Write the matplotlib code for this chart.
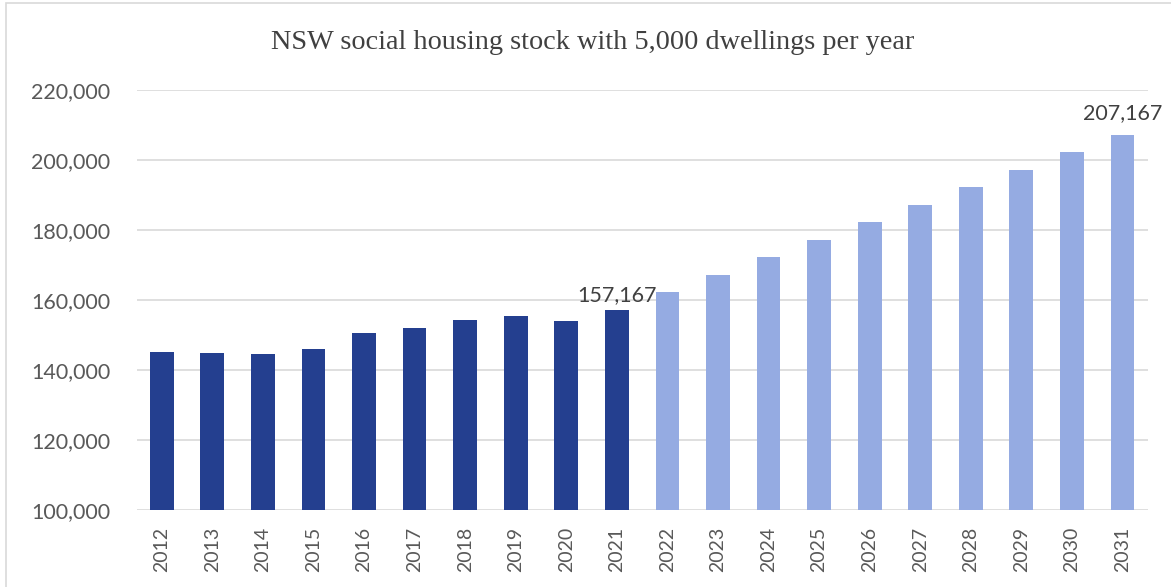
import matplotlib.pyplot as plt
import numpy as np
from matplotlib.patches import Rectangle
from matplotlib.ticker import FuncFormatter

# data
years_actual = ["2012", "2013", "2014", "2015", "2016", "2017", "2018", "2019", "2020", "2021"]
stock_actual = [145200, 144800, 144500, 145900, 150600, 152100, 154300, 155300, 153900, 157167]

years_proj = ["2022", "2023", "2024", "2025", "2026", "2027", "2028", "2029", "2030", "2031"]
stock_proj = [162167, 167167, 172167, 177167, 182167, 187167, 192167, 197167, 202167, 207167]

title = "NSW social housing stock with 5,000 dwellings per year"

dark = "#243f8f"
light = "#95abe2"
txt = "#595959"

fig = plt.figure(figsize=(11.71, 5.87), dpi=100)
ax = fig.add_axes([0.1166, 0.1312, 0.8635, 0.7155])

years = years_actual + years_proj
x = np.arange(len(years))
n_act = len(years_actual)

ax.bar(x[:n_act], stock_actual, width=0.47, color=dark, zorder=3)
ax.bar(x[n_act:], stock_proj, width=0.47, color=light, zorder=3)

# etykiety nad ostatnim słupkiem danych i ostatnim słupkiem prognozy
ax.text(x[n_act - 1], stock_actual[-1] + 1300, f"{stock_actual[-1]:,}",
        ha="center", va="bottom", fontsize=15.5, color="#404040", family="Lato", zorder=4)
ax.text(x[-1], stock_proj[-1] + 3400, f"{stock_proj[-1]:,}",
        ha="center", va="bottom", fontsize=15.5, color="#404040", family="Lato", zorder=4)

ax.set_xlim(-0.5, len(years) - 0.5)
ax.set_ylim(100000, 220000)
ax.set_yticks(np.arange(100000, 220001, 20000))
ax.yaxis.set_major_formatter(FuncFormatter(lambda v, p: f"{int(v):,}"))
ax.set_xticks(x)
ax.set_xticklabels(years, rotation=90)

for lab in ax.get_xticklabels():
    lab.set_family("Lato")
    lab.set_fontsize(14)
    lab.set_color(txt)
for lab in ax.get_yticklabels():
    lab.set_family("Lato")
    lab.set_fontsize(15.5)
    lab.set_color(txt)

ax.tick_params(axis="y", length=0, pad=19)
ax.tick_params(axis="x", length=0, pad=12)

ax.grid(True, axis="y", color="#d9d9d9", linewidth=1.2, zorder=0)
for s in ["top", "right", "left", "bottom"]:
    ax.spines[s].set_visible(False)

fig.text(0.5064, 0.928, title, ha="center", va="center", fontsize=20.3,
         family="Liberation Serif", color="#404040")

# ramka wykresu
fig.add_artist(Rectangle((6 / 1171, -0.1), 2.0, 1.1 - 3 / 587, transform=fig.transFigure,
                         fill=False, edgecolor="#d9d9d9", linewidth=1.2))

fig.savefig("out.png", dpi=100)
